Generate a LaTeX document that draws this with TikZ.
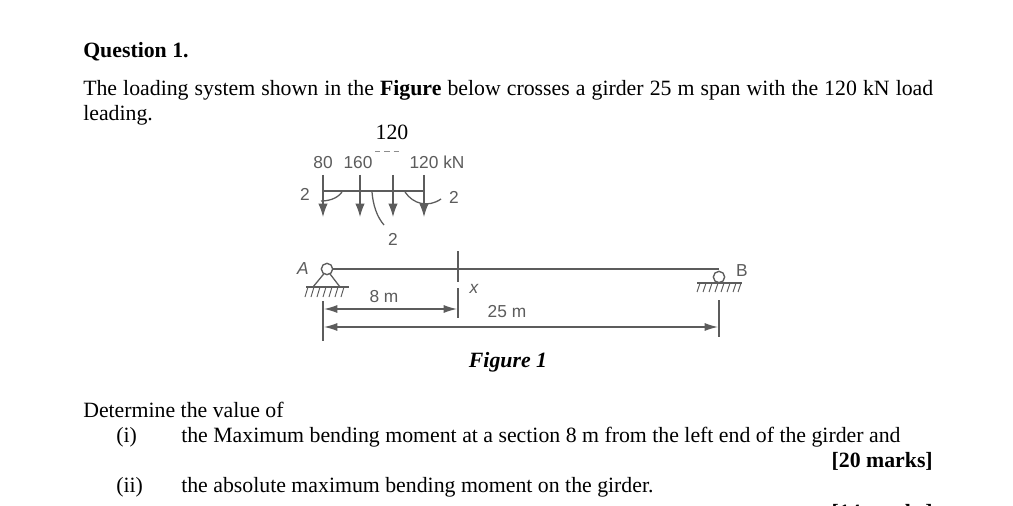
\documentclass[tikz,border=0pt]{standalone}
\usepackage{fontspec}
\setmainfont{Liberation Serif}
\setsansfont{Liberation Sans}
\usetikzlibrary{arrows.meta}
\definecolor{ink}{gray}{0.36}
\newcommand{\body}{\fontsize{16.35pt}{18pt}\selectfont}
\newcommand{\figfont}{\sffamily\fontsize{13pt}{15pt}\selectfont\color{ink}}
\tikzset{
  x=0.75pt,y=-0.75pt,
  txt/.style={anchor=base west,inner sep=0pt,font=\body,text=black},
  txtr/.style={anchor=base east,inner sep=0pt,font=\body,text=black},
  txtc/.style={anchor=base,inner sep=0pt,font=\body,text=black},
  fig/.style={anchor=center,inner sep=0pt,font=\figfont},
  ln/.style={draw=ink,line width=0.95pt},
  beam/.style={draw=ink,line width=1.4pt},
  load/.style={draw=ink,line width=0.9pt,-{Latex[length=10pt,width=7pt]}},
  dim/.style={draw=ink,line width=0.9pt,{Latex[length=10pt,width=6pt]}-{Latex[length=10pt,width=6pt]}},
  thin ln/.style={draw=ink,line width=0.7pt},
  pin/.style={circle,draw=ink,line width=1pt,fill=white,inner sep=0pt,minimum size=8.5pt},
}
\begin{document}
\begin{tikzpicture}
\useasboundingbox (0,0) rectangle (1013,506);
\clip (0,0) rectangle (1013,506);
\fill[white] (0,0) rectangle (1013,506);
% text
\node[txt] (q) at (83,58) {\textbf{Question 1.}};
\node[txt] (p1) at (83,96) {\hbox to 637.5pt{The loading system shown in the \textbf{Figure} below crosses a girder 25 m span with the 120 kN load}};
\node[txt] (p2) at (83,121) {leading.};
\node[txtc] (top) at (392,140) {120};
\node[txtc] (figc) at (508,367) {\textbf{\textit{Figure 1}}};
\node[txt] (det) at (83,417) {Determine the value of};
\node[txt] (i) at (116,442) {(i)};
\node[txt] (it) at (181,442) {the Maximum bending moment at a section 8 m from the left end of the girder and};
\node[txtr] (m20) at (933,467) {\textbf{[20 marks]}};
\node[txt] (ii) at (116,492) {(ii)};
\node[txt] (iit) at (181,492) {the absolute maximum bending moment on the girder.};
\node[txtr] (m14) at (933,519) {\textbf{[14 marks]}};
% figure labels
\node[fig] (l80) at (323,163) {80};
\node[fig] (l160) at (358,163) {160};
\node[fig] (l120) at (437,162) {120 kN};
\node[fig] (s1) at (305,194) {2};
\node[fig] (s2) at (393,239) {2};
\node[fig] (s3) at (454,197) {2};
\node[fig] (na) at (303,269) {\itshape A};
\node[fig] (nb) at (742,271) {B};
\node[fig] (nx) at (474,289) {\itshape x};
\node[fig] (n8) at (384,297) {8 m};
\node[fig] (n25) at (507,312) {25 m};
% dashes under the top 120
\coordinate (da) at (375,151); \coordinate (db) at (399,151);
\draw[draw=ink!70,line width=0.6pt,dash pattern=on 4pt off 3pt] (da) -- (db);
% load bar
\coordinate (t1) at (323,175); \coordinate (e1) at (323,217);
\coordinate (t2) at (360,175); \coordinate (e2) at (360,217);
\coordinate (t3) at (393,175); \coordinate (e3) at (393,217);
\coordinate (t4) at (424,175); \coordinate (e4) at (424,217);
\coordinate (b1) at (323,191); \coordinate (b4) at (424,191);
\draw[load] (t1) -- (e1);
\draw[load] (t2) -- (e2);
\draw[load] (t3) -- (e3);
\draw[load] (t4) -- (e4);
\draw[beam] (b1) -- (b4);
% spacing leaders
\coordinate (c1a) at (342,192); \coordinate (c1b) at (321,201);
\coordinate (c2a) at (372,192); \coordinate (c2b) at (384,225);
\coordinate (c3a) at (405,192); \coordinate (c3b) at (441,199);
\draw[ln] (c1a) .. controls (337,199) and (328,201) .. (c1b);
\draw[ln] (c2a) .. controls (373,205) and (377,217) .. (c2b);
\draw[ln] (c3a) .. controls (413,204) and (428,208) .. (c3b);
% beam
\coordinate (ba) at (327,269); \coordinate (bb) at (719,269);
\draw[beam] (ba) -- (bb);
% section
\coordinate (s1a) at (458,251); \coordinate (s1b) at (458,282);
\coordinate (s2a) at (458,288); \coordinate (s2b) at (458,318);
\draw[ln] (s1a) -- (s1b);
\draw[ln] (s2a) -- (s2b);
% left support
\coordinate (ta) at (313,287); \coordinate (tb) at (340,287);
\coordinate (tc) at (327,270);
\draw[ln] (tc) -- (ta);
\draw[ln] (tc) -- (tb);
\node[pin] (pa) at (327,269) {};
\coordinate (ga) at (306,287); \coordinate (gb) at (349,287);
\draw[ln] (ga) -- (gb);
\foreach \h in {308,314,320,326,332,338,344}
  \draw[thin ln] (\h,287) -- (\h-3,297);
% right support
\node[pin] (pb) at (719,277) {};
\coordinate (gc) at (697,283); \coordinate (gd) at (742,283);
\draw[ln] (gc) -- (gd);
\foreach \h in {700,706,712,718,724,730,736,741}
  \draw[thin ln] (\h,283) -- (\h-3,292);
% dimensions
\coordinate (va) at (323,301); \coordinate (vb) at (323,341);
\coordinate (vc) at (719,300); \coordinate (vd) at (719,337);
\draw[ln] (va) -- (vb);
\draw[ln] (vc) -- (vd);
\coordinate (d8a) at (324,309); \coordinate (d8b) at (457,309);
\coordinate (d25a) at (324,327); \coordinate (d25b) at (718,327);
\draw[dim] (d8a) -- (d8b);
\draw[dim] (d25a) -- (d25b);
\end{tikzpicture}
\end{document}
